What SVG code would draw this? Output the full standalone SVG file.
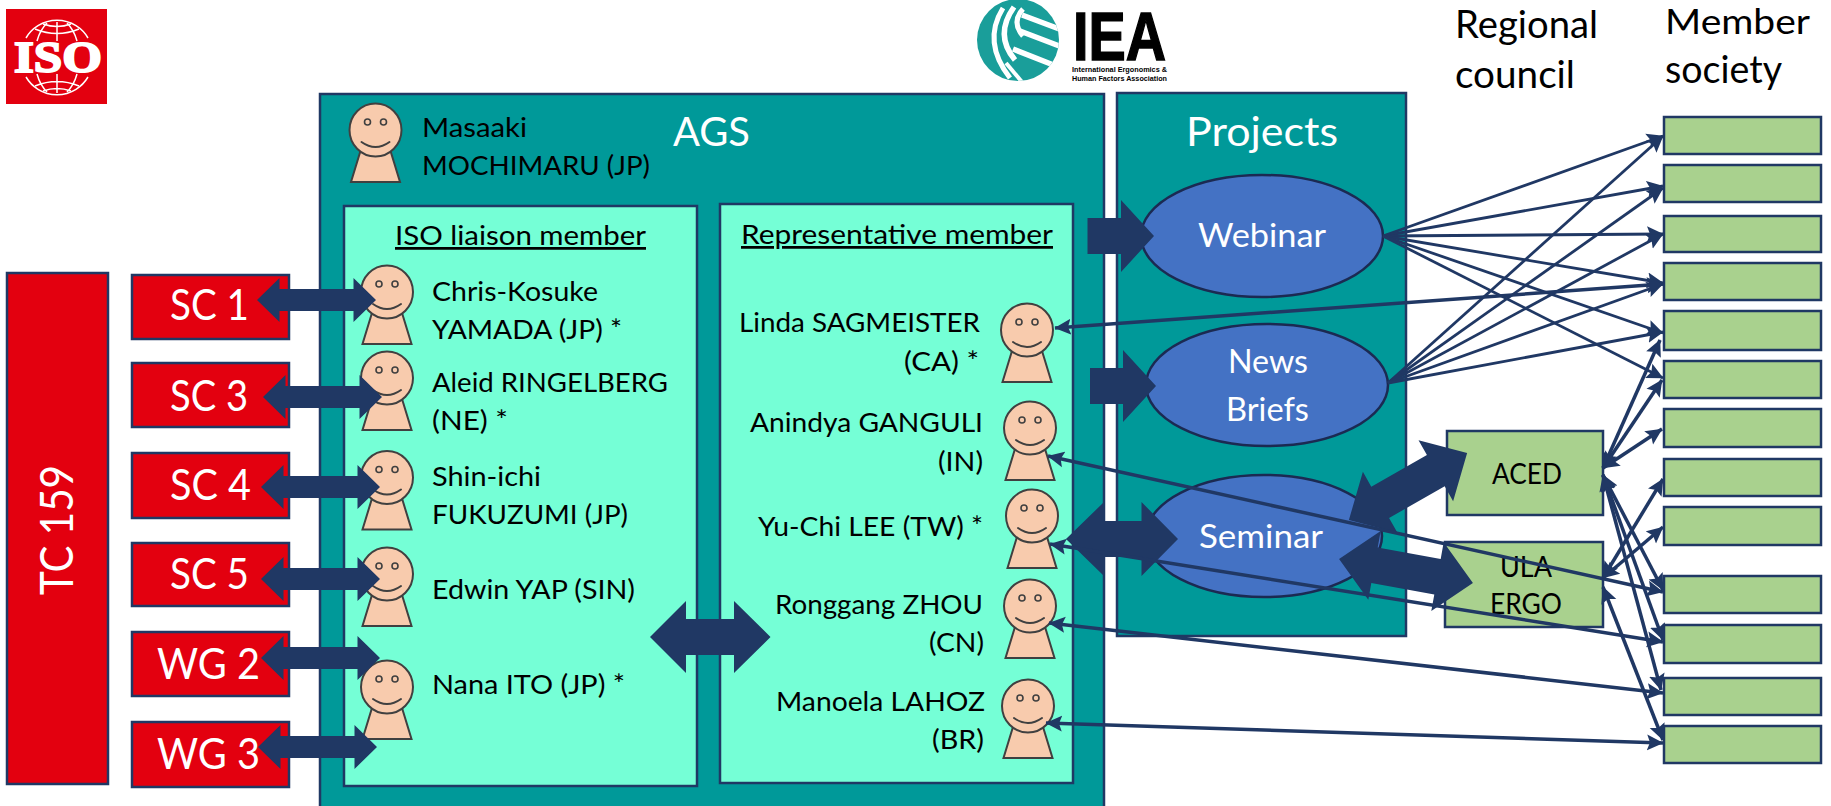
<svg xmlns="http://www.w3.org/2000/svg" xmlns:xlink="http://www.w3.org/1999/xlink" width="1831" height="806" viewBox="0 0 1831 806">
<style>
text{font-family:Lato,"Liberation Sans",sans-serif;fill:#000;font-size:27.5px}
.w{fill:#fff}
.box{stroke:#203864;stroke-width:2.5}
.red{fill:#E3000F}
.teal{fill:#009999}
.aqua{fill:#75FFD6}
.green{fill:#A9D18E}
.ell{fill:#4472C4;stroke:#1B2A52;stroke-width:2.5}
.blk{fill:#203864}
.ln{fill:none;stroke:#203864;stroke-width:2.8;marker-end:url(#tip)}
.ln2{fill:none;stroke:#203864;stroke-width:3.5;marker-end:url(#tip);marker-start:url(#tip)}
.big{font-size:43px}
.el{font-size:33px}
.hd{font-size:38.5px}
.hd2{font-size:34px}
.ttl{font-size:41px}
.rc{font-size:29px}
.face{fill:#F8CBAD;stroke:#404040;stroke-width:2}
.smile{fill:none;stroke:#404040;stroke-width:2;stroke-linecap:round}
.eye{fill:#F8CBAD;stroke:#404040;stroke-width:1.6}
.globe{fill:none;stroke:#fff;stroke-width:1.5}
.st{fill:none;stroke:#fff}
</style>
<defs>
<marker id="tip" markerUnits="userSpaceOnUse" markerWidth="17" markerHeight="17" refX="16" refY="8.5" orient="auto-start-reverse" viewBox="0 0 17 17"><path d="M0,0.5 L16.5,8.5 L0,16.5 L3,8.5 Z" fill="#203864"/></marker>
<g id="person">
<path class="face" d="M-13.5,16 L13.5,16 L24.5,52 L-24.5,52 Z"/>
<ellipse class="face" cx="0" cy="0" rx="26" ry="26.5"/>
<circle class="eye" cx="-8" cy="-8" r="3"/>
<circle class="eye" cx="8" cy="-8" r="3"/>
<path class="smile" d="M-14,12 Q0,22 14,12"/>
</g>
<polygon id="dbl" points="-59.5,0 -37,-22 -37,-11 37,-11 37,-22 59.5,0 37,22 37,11 -37,11 -37,22"/>
<polygon id="bigdbl" points="-68,0 -32,-35 -32,-18 32,-18 32,-35 68,0 32,35 32,18 -32,18 -32,35"/>
<g id="cap">
<path d="M26,38 A36,36 0 0 1 88,38"/>
<path d="M57,22 V41 M47,23 Q40,30 37,41 M67,23 Q74,30 77,41 M35,29 Q57,38 79,29 M43,24 Q57,29 71,24"/>
</g>
<clipPath id="iea"><ellipse cx="1018" cy="40" rx="41" ry="41"/></clipPath>
</defs>

<g id="iso-logo">
<rect x="6" y="9" width="101" height="95" fill="#E3000F"/>
<use href="#cap" class="globe"/>
<use href="#cap" class="globe" transform="translate(0,115) scale(1,-1)"/>
<text x="14" y="71.5" textLength="88" lengthAdjust="spacingAndGlyphs" style="font-family:'Liberation Serif',serif;font-weight:700;font-size:45px;fill:#fff;stroke:#fff;stroke-width:2">ISO</text>
</g>

<g id="iea-logo">
<ellipse cx="1018" cy="40" rx="41" ry="41" fill="#1A9E9A"/>
<g clip-path="url(#iea)">
<path class="st" stroke-width="5" d="M1003,8 Q982,42 1010,78"/>
<path class="st" stroke-width="5.5" d="M1014,7 Q994,35 1015,60"/>
<path class="st" stroke-width="5" d="M1023,9 Q1011,22 1023,36"/>
<path class="st" stroke-width="5.5" d="M1022,15 L1062,30 M1020,31 L1062,47 M1013,49 L1056,66"/>
<path class="st" stroke-width="4" d="M1006,63 L1022,82"/>
</g>
<text x="1073" y="60" textLength="93" lengthAdjust="spacingAndGlyphs" style="font-family:'Liberation Sans',sans-serif;font-weight:700;font-size:68px;stroke:#000;stroke-width:1.5">IEA</text>
<text x="1072" y="72" textLength="95" lengthAdjust="spacingAndGlyphs" style="font-family:'Liberation Sans',sans-serif;font-weight:700;font-size:8px">International Ergonomics &amp;</text>
<text x="1072" y="81" textLength="95" lengthAdjust="spacingAndGlyphs" style="font-family:'Liberation Sans',sans-serif;font-weight:700;font-size:8px">Human Factors Association</text>
</g>

<g id="headings">
<text class="hd" x="1455" y="38" textLength="143" lengthAdjust="spacingAndGlyphs">Regional</text>
<text class="hd" x="1455" y="88" textLength="120" lengthAdjust="spacingAndGlyphs">council</text>
<text class="hd2" x="1665" y="34" textLength="145" lengthAdjust="spacingAndGlyphs">Member</text>
<text class="hd" x="1665" y="83" textLength="117" lengthAdjust="spacingAndGlyphs">society</text>
</g>

<g id="tc159"><rect class="box red" x="7" y="273" width="101" height="511"/>
<text class="w" transform="translate(73,595) rotate(-90)" style="font-size:47px" textLength="130" lengthAdjust="spacingAndGlyphs">TC 159</text></g>
<g id="sc1"><rect class="box red" x="132" y="275" width="157" height="64"/><text class="w big" x="170" y="320" textLength="79" lengthAdjust="spacingAndGlyphs">SC 1</text></g>
<g id="sc3"><rect class="box red" x="132" y="363" width="157" height="64"/><text class="w big" x="170" y="411" textLength="78" lengthAdjust="spacingAndGlyphs">SC 3</text></g>
<g id="sc4"><rect class="box red" x="132" y="453" width="157" height="65"/><text class="w big" x="170" y="500" textLength="81" lengthAdjust="spacingAndGlyphs">SC 4</text></g>
<g id="sc5"><rect class="box red" x="132" y="543" width="157" height="63"/><text class="w big" x="170" y="589" textLength="79" lengthAdjust="spacingAndGlyphs">SC 5</text></g>
<g id="wg2"><rect class="box red" x="132" y="632" width="157" height="64"/><text class="w big" x="157" y="679" textLength="103" lengthAdjust="spacingAndGlyphs">WG 2</text></g>
<g id="wg3"><rect class="box red" x="132" y="722" width="157" height="65"/><text class="w big" x="157" y="769" textLength="103" lengthAdjust="spacingAndGlyphs">WG 3</text></g>

<g id="ags">
<rect class="box teal" x="320" y="94" width="784" height="716"/>
<text class="w ttl" x="673" y="146" textLength="77" lengthAdjust="spacingAndGlyphs">AGS</text>
</g>
<g id="chair">
<use href="#person" x="375.5" y="130"/>
<text x="422" y="137" textLength="105" lengthAdjust="spacingAndGlyphs">Masaaki</text>
<text x="422" y="175" textLength="228" lengthAdjust="spacingAndGlyphs">MOCHIMARU (JP)</text>
</g>
<g id="projects">
<rect class="box teal" x="1117" y="93" width="289" height="543"/>
<text class="w ttl" x="1186" y="146" textLength="152" lengthAdjust="spacingAndGlyphs">Projects</text>
</g>
<g id="iso-liaison">
<rect class="box aqua" x="344" y="206" width="353" height="580"/>
<text x="395" y="245" text-decoration="underline" textLength="251" lengthAdjust="spacingAndGlyphs">ISO liaison member</text>
</g>
<g id="representative">
<rect class="box aqua" x="720" y="204" width="353" height="579"/>
<text x="741" y="244" text-decoration="underline" textLength="312" lengthAdjust="spacingAndGlyphs">Representative member</text>
</g>

<g id="p-yamada"><use href="#person" x="387" y="292"/>
<text x="432" y="301" textLength="166" lengthAdjust="spacingAndGlyphs">Chris-Kosuke</text>
<text x="432" y="339" textLength="190" lengthAdjust="spacingAndGlyphs">YAMADA (JP) *</text></g>
<g id="p-ringelberg"><use href="#person" x="387" y="378"/>
<text x="432" y="392" textLength="236" lengthAdjust="spacingAndGlyphs">Aleid RINGELBERG</text>
<text x="432" y="430" textLength="76" lengthAdjust="spacingAndGlyphs">(NE) *</text></g>
<g id="p-fukuzumi"><use href="#person" x="387" y="477.5"/>
<text x="432" y="486" textLength="109" lengthAdjust="spacingAndGlyphs">Shin-ichi</text>
<text x="432" y="524" textLength="196" lengthAdjust="spacingAndGlyphs">FUKUZUMI (JP)</text></g>
<g id="p-yap"><use href="#person" x="387" y="574"/>
<text x="432" y="599" textLength="203" lengthAdjust="spacingAndGlyphs">Edwin YAP (SIN)</text></g>
<g id="p-ito"><use href="#person" x="387" y="687"/>
<text x="432" y="694" textLength="193" lengthAdjust="spacingAndGlyphs">Nana ITO (JP) *</text></g>

<g id="p-sagmeister"><use href="#person" x="1027" y="330"/>
<text x="739" y="332" textLength="241" lengthAdjust="spacingAndGlyphs">Linda SAGMEISTER</text>
<text x="904" y="371" textLength="75" lengthAdjust="spacingAndGlyphs">(CA) *</text></g>
<g id="p-ganguli"><use href="#person" x="1030" y="428"/>
<text x="750" y="432" textLength="233" lengthAdjust="spacingAndGlyphs">Anindya GANGULI</text>
<text x="938" y="471" textLength="45" lengthAdjust="spacingAndGlyphs">(IN)</text></g>
<g id="p-lee"><use href="#person" x="1032" y="516"/>
<text x="758" y="536" textLength="225" lengthAdjust="spacingAndGlyphs">Yu-Chi LEE (TW) *</text></g>
<g id="p-zhou"><use href="#person" x="1030" y="606"/>
<text x="775" y="614" textLength="208" lengthAdjust="spacingAndGlyphs">Ronggang ZHOU</text>
<text x="929" y="652" textLength="55" lengthAdjust="spacingAndGlyphs">(CN)</text></g>
<g id="p-lahoz"><use href="#person" x="1028" y="706"/>
<text x="776" y="711" textLength="209" lengthAdjust="spacingAndGlyphs">Manoela LAHOZ</text>
<text x="932" y="749" textLength="52" lengthAdjust="spacingAndGlyphs">(BR)</text></g>

<g id="webinar"><ellipse class="ell" cx="1262" cy="236" rx="121" ry="61"/><text class="w el" x="1198" y="247" textLength="128" lengthAdjust="spacingAndGlyphs">Webinar</text></g>
<g id="news-briefs"><ellipse class="ell" cx="1267" cy="385" rx="121" ry="61"/><text class="w el" x="1228" y="373" textLength="80" lengthAdjust="spacingAndGlyphs">News</text><text class="w el" x="1226" y="421" textLength="83" lengthAdjust="spacingAndGlyphs">Briefs</text></g>
<g id="seminar"><ellipse class="ell" cx="1264" cy="536" rx="118" ry="61"/><text class="w el" x="1199" y="548" textLength="124" lengthAdjust="spacingAndGlyphs">Seminar</text></g>

<g id="aced"><rect class="box green" x="1447" y="431" width="156" height="84"/><text class="rc" x="1492" y="484" textLength="70" lengthAdjust="spacingAndGlyphs">ACED</text></g>
<g id="ula-ergo"><rect class="box green" x="1445" y="542" width="158" height="85"/><text class="rc" x="1500" y="577" textLength="52" lengthAdjust="spacingAndGlyphs">ULA</text><text class="rc" x="1490" y="614" textLength="72" lengthAdjust="spacingAndGlyphs">ERGO</text></g>

<g id="m1"><rect class="box green" x="1664" y="117" width="157" height="37"/></g>
<g id="m2"><rect class="box green" x="1664" y="165" width="157" height="37"/></g>
<g id="m3"><rect class="box green" x="1664" y="216" width="157" height="36"/></g>
<g id="m4"><rect class="box green" x="1664" y="263" width="157" height="37"/></g>
<g id="m5"><rect class="box green" x="1664" y="311" width="157" height="39"/></g>
<g id="m6"><rect class="box green" x="1664" y="361" width="157" height="37"/></g>
<g id="m7"><rect class="box green" x="1664" y="409" width="157" height="38"/></g>
<g id="m8"><rect class="box green" x="1664" y="459" width="157" height="37"/></g>
<g id="m9"><rect class="box green" x="1664" y="507" width="157" height="38"/></g>
<g id="m10"><rect class="box green" x="1664" y="576" width="157" height="37"/></g>
<g id="m11"><rect class="box green" x="1664" y="625" width="157" height="38"/></g>
<g id="m12"><rect class="box green" x="1664" y="678" width="157" height="37"/></g>
<g id="m13"><rect class="box green" x="1664" y="726" width="157" height="37"/></g>

<g id="connectors">
<g class="blk">
<use href="#dbl" transform="translate(316.5,300)"/>
<use href="#dbl" transform="translate(322.5,397)"/>
<use href="#dbl" transform="translate(320.5,487)"/>
<use href="#dbl" transform="translate(320.5,579)"/>
<use href="#dbl" transform="translate(320.5,658)"/>
<use href="#dbl" transform="translate(317.5,747)"/>
<polygon points="650,637 686,601 686,619 734,619 734,601 770.5,637 734,673 734,655 686,655 686,673"/>
<polygon points="1087.5,218 1121,218 1121,200 1154,236 1121,272 1121,254 1087.5,254"/>
<polygon points="1090,368 1123,368 1123,350 1156,386 1123,422 1123,404 1090,404"/>
<polygon points="1066,539 1104,502 1104,521 1141.5,521 1141.5,502 1178,539 1141.5,576 1141.5,557 1104,557 1104,576"/>
<use href="#bigdbl" transform="translate(1408,486.5) rotate(-29.6)"/>
<use href="#bigdbl" transform="translate(1406,571) rotate(10.2)"/>
</g>
<g class="ln">
<line x1="1383" y1="236" x2="1663" y2="136"/>
<line x1="1383" y1="236" x2="1663" y2="186"/>
<line x1="1383" y1="236" x2="1663" y2="234"/>
<line x1="1383" y1="236" x2="1663" y2="283"/>
<line x1="1383" y1="236" x2="1663" y2="333"/>
<line x1="1383" y1="236" x2="1663" y2="378"/>
<line x1="1388" y1="383" x2="1663" y2="136"/>
<line x1="1388" y1="383" x2="1663" y2="188"/>
<line x1="1388" y1="383" x2="1663" y2="234"/>
<line x1="1388" y1="383" x2="1663" y2="284"/>
<line x1="1388" y1="383" x2="1663" y2="332"/>
</g>
<g class="ln2">
<line x1="1055" y1="328" x2="1663" y2="284"/>
<line x1="1048" y1="456" x2="1663" y2="592"/>
<line x1="1050" y1="544" x2="1663" y2="642"/>
<line x1="1049" y1="623" x2="1663" y2="693"/>
<line x1="1046" y1="723" x2="1663" y2="743"/>
<line x1="1603" y1="468" x2="1660" y2="340"/>
<line x1="1603" y1="468" x2="1662" y2="380"/>
<line x1="1603" y1="468" x2="1662" y2="429"/>
<line x1="1603" y1="475" x2="1663" y2="590"/>
<line x1="1603" y1="475" x2="1663" y2="640"/>
<line x1="1603" y1="475" x2="1661" y2="690"/>
<line x1="1603" y1="578" x2="1663" y2="479"/>
<line x1="1603" y1="578" x2="1663" y2="527"/>
<line x1="1603" y1="587" x2="1663" y2="740"/>
</g>
</g>
</svg>
